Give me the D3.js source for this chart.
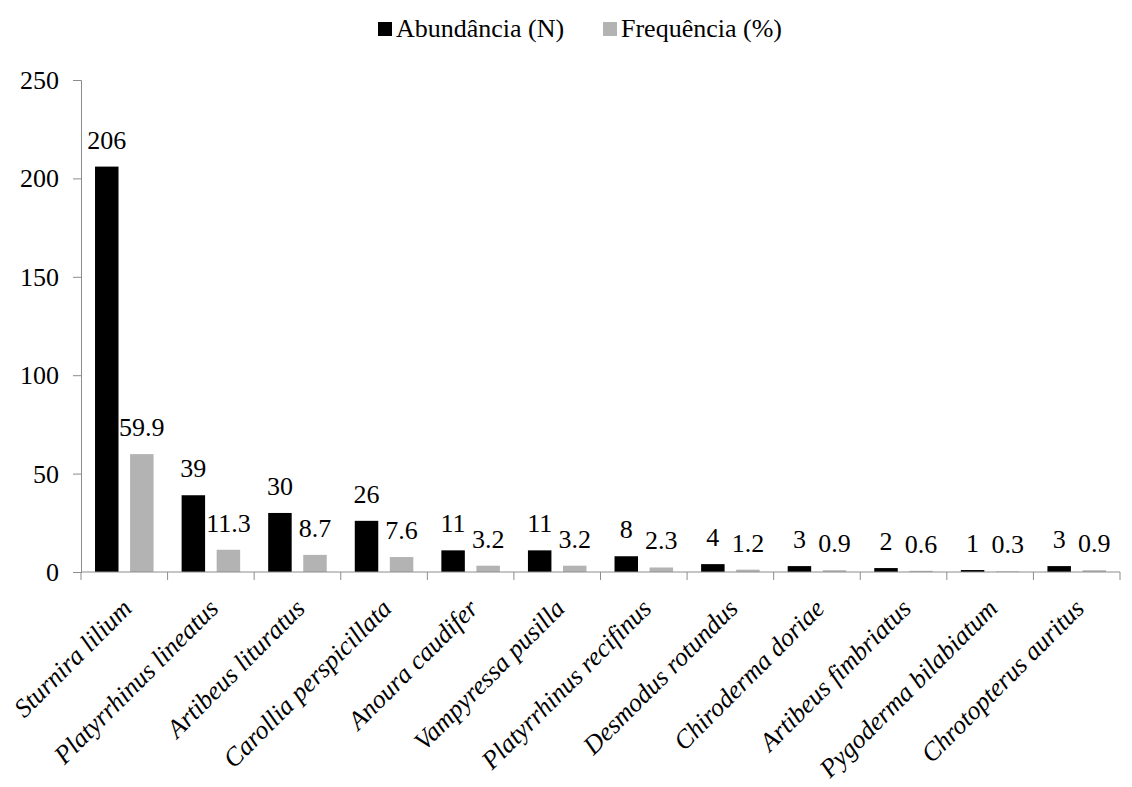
<!DOCTYPE html>
<html>
<head>
<meta charset="utf-8">
<script src="https://cdn.jsdelivr.net/npm/d3@7"></script>
</head>
<body style="margin:0;background:#fff">
<svg id="chart" width="1132" height="787" style="display:block"></svg>
<script>
const categories = ["Sturnira lilium", "Platyrrhinus lineatus", "Artibeus lituratus", "Carollia perspicillata",
  "Anoura caudifer", "Vampyressa pusilla", "Platyrrhinus recifinus", "Desmodus rotundus",
  "Chiroderma doriae", "Artibeus fimbriatus", "Pygoderma bilabiatum", "Chrotopterus auritus"];
const abundancia = [206, 39, 30, 26, 11, 11, 8, 4, 3, 2, 1, 3];
const frequencia = [59.9, 11.3, 8.7, 7.6, 3.2, 3.2, 2.3, 1.2, 0.9, 0.6, 0.3, 0.9];
const yTicks = [0, 50, 100, 150, 200, 250];
const seriesNames = ["Abundância (N)", "Frequência (%)"];
const seriesColors = ["#000000", "#b3b3b3"];

const svg = d3.select("#chart");
const mLeft = 81, mRight = 1120, mTop = 80, mBottom = 572;
const axisColor = "#8c8c8c";
const FONT = "Liberation Serif";

const x = d3.scaleBand().domain(categories).range([mLeft, mRight]).padding(0);
const y = d3.scaleLinear().domain([0, 250]).range([mBottom, mTop]);
const inner = d3.scaleBand().domain([0, 1]).range([0, x.bandwidth()]).paddingInner(0.33).paddingOuter(0.4);

// Y axis
const yAxis = svg.append("g").attr("transform", `translate(${mLeft},0)`)
  .call(d3.axisLeft(y).tickValues(yTicks).tickSize(8).tickFormat(""));
yAxis.selectAll("path, line").attr("stroke", axisColor);
svg.selectAll("text.ytick").data(yTicks).join("text")
  .attr("class", "ytick")
  .attr("x", mLeft - 22)
  .attr("y", d => y(d) + 9)
  .attr("text-anchor", "end")
  .attr("font-family", FONT)
  .attr("font-size", 26)
  .text(d => d);

// Bars and value labels
const series = [abundancia, frequencia];
series.forEach((vals, si) => {
  svg.append("g").selectAll("rect").data(vals).join("rect")
    .attr("x", (d, i) => x(categories[i]) + inner(si))
    .attr("width", inner.bandwidth())
    .attr("y", d => y(d))
    .attr("height", d => y(0) - y(d))
    .attr("fill", seriesColors[si]);
  svg.selectAll("text.lbl" + si).data(vals).join("text")
    .attr("class", "lbl" + si)
    .attr("x", (d, i) => x(categories[i]) + inner(si) + inner.bandwidth() / 2)
    .attr("y", d => y(d) - 18)
    .attr("text-anchor", "middle")
    .attr("font-family", FONT)
    .attr("font-size", 26)
    .text(d => String(d));
});

// X axis
svg.append("line").attr("x1", mLeft).attr("x2", mRight).attr("y1", mBottom).attr("y2", mBottom).attr("stroke", axisColor);
const boundaries = categories.map(c => x(c)).concat([mRight]);
svg.selectAll("line.xtick").data(boundaries).join("line")
  .attr("class", "xtick")
  .attr("x1", d => d).attr("x2", d => d)
  .attr("y1", mBottom).attr("y2", mBottom + 8)
  .attr("stroke", axisColor);

svg.selectAll("text.xlab").data(categories).join("text")
  .attr("class", "xlab")
  .attr("transform", d => `translate(${x(d) + x.bandwidth() / 2 + 9},${mBottom + 38}) rotate(-45)`)
  .attr("text-anchor", "end")
  .attr("font-family", FONT)
  .attr("font-size", 26)
  .attr("font-style", "italic")
  .text(d => d);

// Legend
const legendItems = [{ name: seriesNames[0], color: seriesColors[0], x: 378 },
                     { name: seriesNames[1], color: seriesColors[1], x: 603 }];
legendItems.forEach(it => {
  svg.append("rect").attr("x", it.x).attr("y", 22).attr("width", 14).attr("height", 14).attr("fill", it.color);
  svg.append("text").attr("x", it.x + 18).attr("y", 37)
    .attr("font-family", FONT).attr("font-size", 26).text(it.name);
});
</script>
</body>
</html>
